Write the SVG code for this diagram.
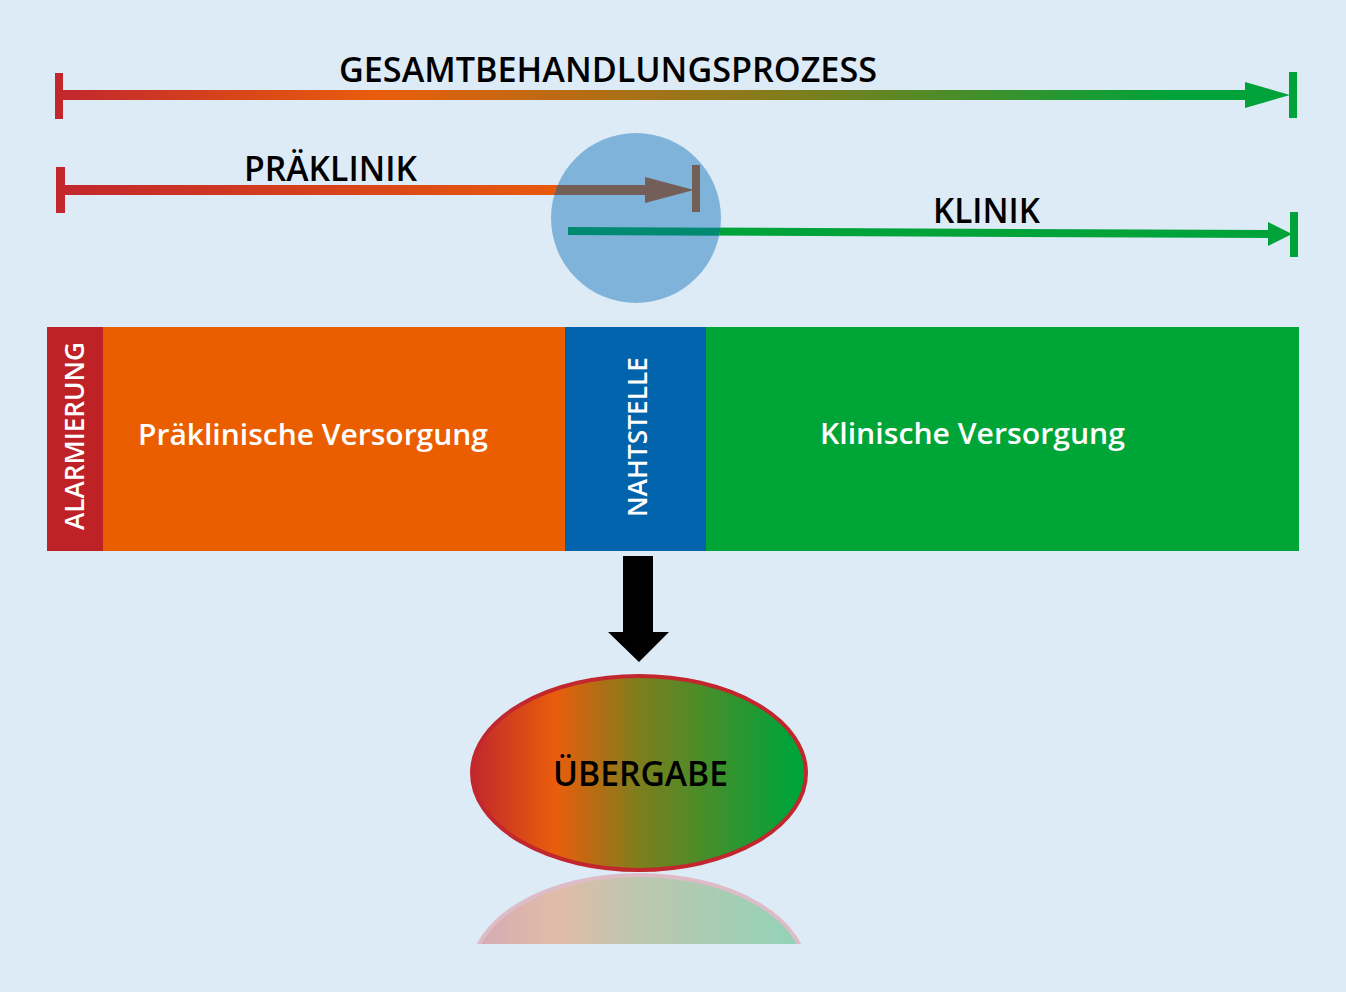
<svg xmlns="http://www.w3.org/2000/svg" width="1346" height="992" viewBox="0 0 1346 992">
<style>
.t{font-family:"Open Sans","Liberation Sans",sans-serif;font-weight:600;}
.lbl{font-size:34px;fill:#000;}
.w{fill:#fff;}
</style>
<defs>
<linearGradient id="gTop" gradientUnits="userSpaceOnUse" x1="56" y1="0" x2="1297" y2="0">
<stop offset="0" stop-color="#c1272d"/><stop offset="0.26" stop-color="#ea5d0c"/><stop offset="0.6" stop-color="#7d7e1d"/><stop offset="0.9" stop-color="#00a33a"/><stop offset="1" stop-color="#00a33a"/>
</linearGradient>
<linearGradient id="gPre" gradientUnits="userSpaceOnUse" x1="60" y1="0" x2="560" y2="0">
<stop offset="0" stop-color="#c1272d"/><stop offset="1" stop-color="#e95a0c"/>
</linearGradient>
<linearGradient id="gEll" x1="0" y1="0" x2="1" y2="0">
<stop offset="0" stop-color="#c1272d"/><stop offset="0.25" stop-color="#ea5d0c"/><stop offset="0.5" stop-color="#7d7e1d"/><stop offset="0.96" stop-color="#00a33a"/><stop offset="1" stop-color="#00a33a"/>
</linearGradient>
<clipPath id="cCirc"><circle cx="636" cy="218" r="85"/></clipPath>
<clipPath id="cRefl"><rect x="400" y="860" width="500" height="84"/></clipPath>
</defs>
<rect width="1346" height="992" fill="#ddebf7"/>

<g id="connectors">
 <g id="gesamt-arrow">
  <rect x="55" y="73" width="8" height="46" fill="#c1272d"/>
  <rect x="62" y="90" width="1186" height="10" fill="url(#gTop)"/>
  <polygon points="1245,82 1290,95 1245,108" fill="#00a33a"/>
  <rect x="1289" y="72" width="8" height="46" fill="#00a33a"/>
 </g>
 <g id="praeklinik-arrow">
  <rect x="56" y="167" width="9" height="46" fill="#c1272d"/>
  <rect x="62" y="185" width="590" height="10" fill="url(#gPre)"/>
 </g>
 <g id="klinik-arrow">
  <line x1="568" y1="231" x2="1272" y2="234" stroke="#00a33a" stroke-width="8"/>
  <polygon points="1268,222 1292,234 1268,246" fill="#00a33a"/>
  <rect x="1290" y="212" width="8" height="45" fill="#00a33a"/>
 </g>
 <g id="nahtstelle-circle">
  <circle cx="636" cy="218" r="85" fill="#80b3d9"/>
  <g clip-path="url(#cCirc)">
   <rect x="540" y="185" width="110" height="10" fill="#735f57"/>
   <line x1="568" y1="231" x2="760" y2="232" stroke="#008a72" stroke-width="8"/>
  </g>
  <polygon points="645,177 694,190 645,203" fill="#735f57"/>
  <rect x="692" y="165" width="8" height="47" fill="#735f57"/>
 </g>
 <polygon id="down-arrow" points="623,556 653,556 653,632 669,632 639,662 608,632 623,632" fill="#000"/>
</g>

<text class="t lbl" x="608" y="82" text-anchor="middle" textLength="538" lengthAdjust="spacingAndGlyphs">GESAMTBEHANDLUNGSPROZESS</text>
<text class="t lbl" x="330.5" y="181" text-anchor="middle" textLength="173" lengthAdjust="spacingAndGlyphs">PRÄKLINIK</text>
<text class="t lbl" x="986.5" y="223" text-anchor="middle" textLength="107" lengthAdjust="spacingAndGlyphs">KLINIK</text>

<g id="alarmierung">
 <rect x="47" y="327" width="56" height="224" fill="#be2227"/>
 <text class="t w" font-size="27" transform="translate(83.5,436) rotate(-90)" text-anchor="middle" textLength="188" lengthAdjust="spacingAndGlyphs">ALARMIERUNG</text>
</g>
<g id="praeklinische-versorgung">
 <rect x="103" y="327" width="462" height="224" fill="#eb5e00"/>
 <text class="t w" font-size="28" x="138" y="445" textLength="350" lengthAdjust="spacingAndGlyphs">Präklinische Versorgung</text>
</g>
<g id="nahtstelle">
 <rect x="565" y="327" width="141" height="224" fill="#0063ab"/>
 <text class="t w" font-size="27" transform="translate(647,437) rotate(-90)" text-anchor="middle" textLength="160" lengthAdjust="spacingAndGlyphs">NAHTSTELLE</text>
</g>
<g id="klinische-versorgung">
 <rect x="706" y="327" width="593" height="224" fill="#00a537"/>
 <text class="t w" font-size="28" x="820" y="444" textLength="305" lengthAdjust="spacingAndGlyphs">Klinische Versorgung</text>
</g>

<g id="uebergabe">
 <ellipse cx="639" cy="773" rx="167" ry="97" fill="url(#gEll)" stroke="#c1272d" stroke-width="4"/>
 <text class="t" font-size="35" x="640.5" y="786" text-anchor="middle" textLength="175" lengthAdjust="spacingAndGlyphs" fill="#000">ÜBERGABE</text>
 <g clip-path="url(#cRefl)" opacity="0.33">
  <ellipse cx="639" cy="972" rx="167" ry="97" fill="url(#gEll)" stroke="#e0606a" stroke-width="4"/>
 </g>
</g>
</svg>
